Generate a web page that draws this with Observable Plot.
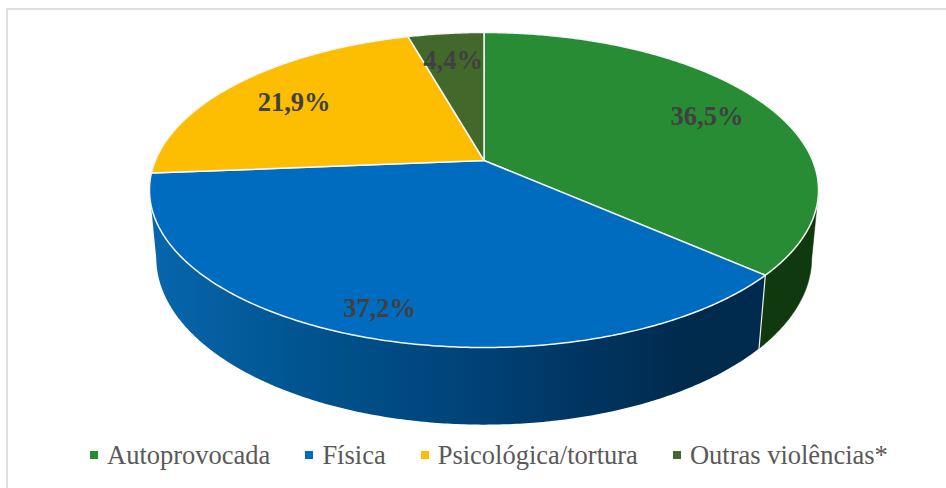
<!DOCTYPE html>
<html>
<head>
<meta charset="utf-8">
<script src="https://cdn.jsdelivr.net/npm/d3@7"></script>
<script src="https://cdn.jsdelivr.net/npm/@observablehq/plot@0.6"></script>
<style>
  html, body { margin: 0; padding: 0; background: #fff; overflow: hidden; }
  #page { position: relative; width: 946px; height: 488px; overflow: hidden; }
  #frame { position: absolute; left: 6px; top: 8px; width: 960px; height: 500px;
           border-left: 2px solid #e0e0e0; border-top: 2px solid #e0e0e0; }
  #chart { position: absolute; left: 0; top: 0; }
  #chart svg { display: block; background: transparent; }
  #legend { position: absolute; left: 90px; top: 439px; display: flex; gap: 35px;
            font: 26.5px "Liberation Serif", serif; color: #595959; white-space: nowrap; line-height: 32px; }
  #legend .item { display: flex; align-items: center; gap: 9px; }
  #legend .swatch { width: 8px; height: 8px; display: inline-block; }
</style>
</head>
<body>
<div id="page">
  <div id="frame"></div>
  <div id="chart"></div>
  <div id="legend"></div>
</div>
<script>
// Data
const categories = ["Autoprovocada", "Física", "Psicológica/tortura", "Outras violências*"];
const shares = [36.5, 37.2, 21.9, 4.4];
const shareLabels = ["36,5%", "37,2%", "21,9%", "4,4%"];

// Style
const topColors = ["#288c34", "#006cbf", "#fdbd00", "#43682b"];
const greenSide = "#10390f";

// View of the tilted disc
const labelRadius = [0.79, 0.855, 0.76, 0.78];
const perspective = 0.1873, depthPerspective = 0.02, depthDrop = 0.447;
const cx = 483.5, cy = 160, rx = 328.6, ry = 152;

function project(theta, r, z) {
  const u = r * Math.sin(theta), v = r * Math.cos(theta);
  const den = 1 + perspective * v + depthPerspective * z;
  return {x: u / den, y: (v - depthDrop * z) / den};
}

// Slices, starting at twelve o'clock, clockwise
const total = d3.sum(shares);
let running = 0;
const slices = categories.map((name, i) => {
  const a0 = running / total * 2 * Math.PI;
  running += shares[i];
  return {name, a0, a1: running / total * 2 * Math.PI, label: shareLabels[i], labelR: labelRadius[i]};
});

const STEP = Math.PI / 360;
function arcAngles(a0, a1) {
  const n = Math.max(2, Math.ceil((a1 - a0) / STEP));
  return d3.range(n + 1).map(i => a0 + (a1 - a0) * i / n);
}

const topPoints = slices.flatMap(s => {
  const rim = arcAngles(s.a0, s.a1).map(t => ({name: s.name, ...project(t, 1, 0)}));
  const c = {name: s.name, ...project(0, 0, 0)};
  return [c, ...rim, c];
});

function sidePoints(s, from, to) {
  const angles = arcAngles(from, to);
  const upper = angles.map(t => project(t, 1, 0));
  const lower = angles.slice().reverse().map(t => project(t, 1, 1));
  return [...upper, ...lower, upper[0]].map(p => ({name: s.name, ...p}));
}

// The wall is visible between the two silhouette angles of the disc
const silhouette = Math.acos(-perspective);
const greenWall = sidePoints(slices[0], silhouette, slices[0].a1);
const blueWall = sidePoints(slices[1], slices[1].a0, Math.min(slices[1].a1, 2 * Math.PI - silhouette));

const labelPoints = slices.map(s => ({label: s.label, ...project((s.a0 + s.a1) / 2, s.labelR, 0)}));

const gradient = () => {
  const ns = "http://www.w3.org/2000/svg";
  const defs = document.createElementNS(ns, "defs");
  const g = document.createElementNS(ns, "linearGradient");
  g.setAttribute("id", "blueWallFill");
  g.setAttribute("x1", "0"); g.setAttribute("x2", "1"); g.setAttribute("y1", "0"); g.setAttribute("y2", "0");
  [[0, "#0866ad"], [0.25, "#00548f"], [0.5, "#00447a"], [0.72, "#00345f"], [0.88, "#002a4c"], [1, "#002b4e"]].forEach(([o, c]) => {
    const st = document.createElementNS(ns, "stop");
    st.setAttribute("offset", o); st.setAttribute("stop-color", c);
    g.appendChild(st);
  });
  defs.appendChild(g);
  return defs;
};

const chart = Plot.plot({
  width: 946,
  height: 436,
  margin: 0,
  style: {background: "transparent"},
  x: {axis: null, domain: [-1, 1], range: [cx - rx, cx + rx]},
  y: {axis: null, domain: [-1, 1], range: [cy + ry, cy - ry]},
  color: {domain: categories, range: topColors},
  marks: [
    gradient,
    Plot.line(greenWall, {x: "x", y: "y", fill: greenSide, stroke: greenSide, strokeWidth: 0.5, curve: "linear"}),
    Plot.line(blueWall, {x: "x", y: "y", fill: "url(#blueWallFill)", stroke: "none", curve: "linear"}),
    Plot.line(slices.slice(0, 1).flatMap(s => [project(s.a1, 1, 0), project(s.a1, 1, 1)]),
      {x: "x", y: "y", stroke: "#eef0ee", strokeWidth: 1.2, curve: "linear"}),
    Plot.line(topPoints, {x: "x", y: "y", z: "name", fill: "name", stroke: "#f4f6f4", strokeWidth: 1.5, curve: "linear"}),
    Plot.text(labelPoints, {x: "x", y: "y", dy: 3, text: "label", fill: "#404040", fontSize: 26.5,
      fontWeight: "bold", fontFamily: "Liberation Serif, serif"})
  ]
});
document.getElementById("chart").appendChild(chart);

const legend = d3.select("#legend");
categories.forEach((name, i) => {
  const item = legend.append("span").attr("class", "item");
  item.append("span").attr("class", "swatch").style("background", topColors[i]);
  item.append("span").text(name);
});
</script>
</body>
</html>
